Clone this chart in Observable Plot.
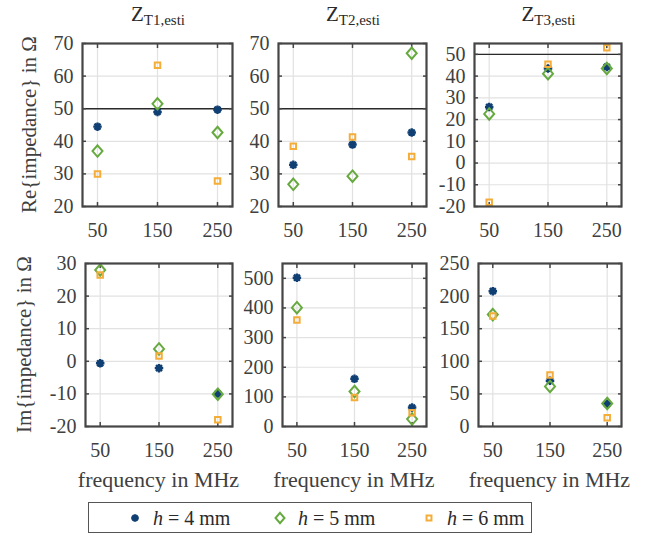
<!DOCTYPE html>
<html><head><meta charset="utf-8">
<script src="https://cdn.jsdelivr.net/npm/d3@7"></script>
<script src="https://cdn.jsdelivr.net/npm/@observablehq/plot@0.6"></script>
<style>
html,body{margin:0;padding:0;background:#fff;}
#chart{position:relative;width:648px;height:535px;overflow:hidden;background:#fff;font-family:"Liberation Serif",serif;color:#404040;}
#chart svg text{font-family:"Liberation Serif",serif !important;}
.panel{position:absolute;}
#overlay{position:absolute;left:0;top:0;}
</style></head><body><div id="chart"></div>
<script>
// ---------- data ----------
const freq = [50, 150, 250];
const series = ["4", "5", "6"]; // h in mm
const seriesColors = ["#0f3f73", "#66aa3f", "#f5ad3a"];
const titleSubs = ["T1,esti", "T2,esti", "T3,esti"];
// rows: h = 4 mm, h = 5 mm, h = 6 mm ; columns: 50, 150, 250 MHz
const reT1 = [[44.5, 49.0, 49.7], [37.0, 51.5, 42.7], [30.0, 63.3, 27.8]];
const reT2 = [[32.8, 39.0, 42.7], [26.8, 29.3, 67.0], [38.5, 41.3, 35.3]];
const reT3 = [[25.8, 43.5, 44.2], [22.6, 41.1, 43.5], [-18.0, 45.4, 53.1]];
const imT1 = [[-0.6, -2.1, -9.9], [28.0, 3.8, -10.1], [26.5, 1.6, -17.9]];
const imT2 = [[502, 161, 64], [401, 118, 25], [359, 98, 46]];
const imT3 = [[207.5, 70.2, 34.8], [171.6, 61.5, 35.3], [169.6, 78.9, 13.3]];
const reYTicks = [[20, 30, 40, 50, 60, 70], [20, 30, 40, 50, 60, 70], [-20, -10, 0, 10, 20, 30, 40, 50]];
const imYTicks = [[-20, -10, 0, 10, 20, 30], [0, 100, 200, 300, 400, 500], [0, 50, 100, 150, 200, 250]];
const reYDomains = [[20, 70], [20, 70], [-20, 55]];
const imYDomains = [[-20, 30], [0, 550], [0, 250]];
const xDomain = [25, 275];
const refValue = [50];
const yLabels = ["Re{impedance} in Ω", "Im{impedance} in Ω"];
const xLabel = "frequency in MHz";

// ---------- symbols ----------
const asteriskSym = {draw(ctx, size) {
  const r = Math.sqrt(size / Math.PI) * 0.85;
  for (let i = 0; i < 4; i++) {
    const a = i * Math.PI / 4;
    ctx.moveTo(r * Math.cos(a), r * Math.sin(a));
    ctx.lineTo(-r * Math.cos(a), -r * Math.sin(a));
  }
}};
const diamondSym = {draw(ctx, size) {
  const r = Math.sqrt(size / Math.PI);
  ctx.moveTo(0, -1.15 * r); ctx.lineTo(r, 0); ctx.lineTo(0, 1.15 * r); ctx.lineTo(-r, 0); ctx.closePath();
}};
const squareSym = {draw(ctx, size) {
  const r = Math.sqrt(size / Math.PI) * 0.55;
  ctx.moveTo(-r, -r); ctx.lineTo(r, -r); ctx.lineTo(r, r); ctx.lineTo(-r, r); ctx.closePath();
}};
const syms = [asteriskSym, diamondSym, squareSym];
const symWidths = [2.4, 2, 2];

// ---------- layout ----------
const FRAME_COLOR = "#454545";
const TEXT_COLOR = "#404040";
const FONT = "'Liberation Serif', serif";
const ML = 60, MR = 10, MT = 10, MB = 40;
const topFrames = [{l: 82, w: 150}, {l: 278, w: 148}, {l: 474, w: 147}];
const botFrames = [{l: 85, w: 147}, {l: 282, w: 144}, {l: 478, w: 143}];
const rows = [
  {t: 43, h: 163, frames: topFrames, data: [reT1, reT2, reT3], ticks: reYTicks, domains: reYDomains, ref: true},
  {t: 263, h: 163, frames: botFrames, data: [imT1, imT2, imT3], ticks: imYTicks, domains: imYDomains, ref: false}
];

const chart = document.getElementById("chart");
const fmt = d => String(d);

function makePanel(frame, top, height, values, yticks, ydomain, ref) {
  const marks = [
    Plot.gridX(freq, {stroke: "#e2e2e2", strokeOpacity: 1, strokeWidth: 1.2}),
    Plot.gridY(yticks, {stroke: "#e2e2e2", strokeOpacity: 1, strokeWidth: 1.2}),
  ];
  if (ref) marks.push(Plot.ruleY(refValue, {stroke: "#2a2a2a", strokeWidth: 1.4}));
  marks.push(
    Plot.axisX(freq, {anchor: "bottom", tickSize: 0, tickPadding: 16, label: null, fill: TEXT_COLOR, tickFormat: fmt, fontFamily: FONT, fontSize: 20}),
    Plot.axisY(yticks, {anchor: "left", tickSize: 0, tickPadding: 9, label: null, fill: TEXT_COLOR, tickFormat: fmt, fontFamily: FONT, fontSize: 20}),
    Plot.axisX(freq, {anchor: "bottom", tickSize: 4, dy: -4, tickFormat: () => "", label: null, stroke: FRAME_COLOR, strokeWidth: 1.5}),
    Plot.axisX(freq, {anchor: "top", tickSize: 4, dy: 4, tickFormat: () => "", label: null, stroke: FRAME_COLOR, strokeWidth: 1.5}),
    Plot.axisY(yticks, {anchor: "left", tickSize: 4, dx: 4, tickFormat: () => "", label: null, stroke: FRAME_COLOR, strokeWidth: 1.5}),
    Plot.axisY(yticks, {anchor: "right", tickSize: 4, dx: -4, tickFormat: () => "", label: null, stroke: FRAME_COLOR, strokeWidth: 1.5})
  );
  values.forEach((row, k) => {
    const pts = freq.map((f, i) => ({f, v: row[i]}));
    marks.push(Plot.dot(pts, {x: "f", y: "v", r: 5, symbol: syms[k], stroke: seriesColors[k], strokeWidth: symWidths[k], fill: "none"}));
  });
  marks.push(Plot.frame({stroke: FRAME_COLOR, strokeWidth: 2.2}));
  const svg = Plot.plot({
    width: frame.w + ML + MR,
    height: height + MT + MB,
    marginLeft: ML, marginRight: MR, marginTop: MT, marginBottom: MB,
    style: {background: "transparent", fontFamily: FONT, fontSize: "20px", color: TEXT_COLOR, overflow: "visible"},
    x: {domain: xDomain},
    y: {domain: ydomain},
    marks
  });
  const div = document.createElement("div");
  div.className = "panel";
  div.style.left = (frame.l - ML) + "px";
  div.style.top = (top - MT) + "px";
  div.appendChild(svg);
  chart.appendChild(div);
}

rows.forEach(row => {
  row.frames.forEach((fr, j) => {
    makePanel(fr, row.t, row.h, row.data[j], row.ticks[j], row.domains[j], row.ref);
  });
});

// ---------- overlay texts & legend ----------
const ov = d3.select(chart).append("svg").attr("id", "overlay").attr("width", 648).attr("height", 535)
  .style("font-family", FONT).style("pointer-events", "none");

// titles
topFrames.forEach((fr, j) => {
  const t = ov.append("text").attr("x", fr.l + fr.w / 2 + 1).attr("y", 21).attr("text-anchor", "middle")
    .attr("fill", "#2a2a2a").style("font-size", "21px");
  t.append("tspan").text("Z");
  t.append("tspan").attr("dy", 4).style("font-size", "15px").text(titleSubs[j]);
});

// y labels
const yLabelX = [36, 31];
rows.forEach((row, i) => {
  const cx = yLabelX[i], cy = row.t + row.h / 2;
  ov.append("text").attr("transform", `translate(${cx},${cy}) rotate(-90)`).attr("text-anchor", "middle")
    .attr("fill", TEXT_COLOR).style("font-size", "21px").text(yLabels[i]);
});

// x labels
botFrames.forEach(fr => {
  ov.append("text").attr("x", fr.l + fr.w / 2).attr("y", 487).attr("text-anchor", "middle")
    .attr("fill", TEXT_COLOR).style("font-size", "22px").text(xLabel);
});

// legend
ov.append("rect").attr("x", 88.5).attr("y", 502.5).attr("width", 443).attr("height", 30)
  .attr("fill", "#fff").attr("stroke", "#555").attr("stroke-width", 1);
const legX = [135, 280, 429];
series.forEach((s, k) => {
  const path = d3.path();
  syms[k].draw(path, Math.PI * 20);
  ov.append("path").attr("d", path.toString()).attr("transform", `translate(${legX[k]},518)`)
    .attr("fill", "none").attr("stroke", seriesColors[k]).attr("stroke-width", symWidths[k]);
  const t = ov.append("text").attr("x", legX[k] + 18).attr("y", 524.5).attr("fill", "#2a2a2a").style("font-size", "20px");
  t.append("tspan").style("font-style", "italic").text("h");
  t.append("tspan").text(" = " + s + " mm");
});
</script>
</body></html>
